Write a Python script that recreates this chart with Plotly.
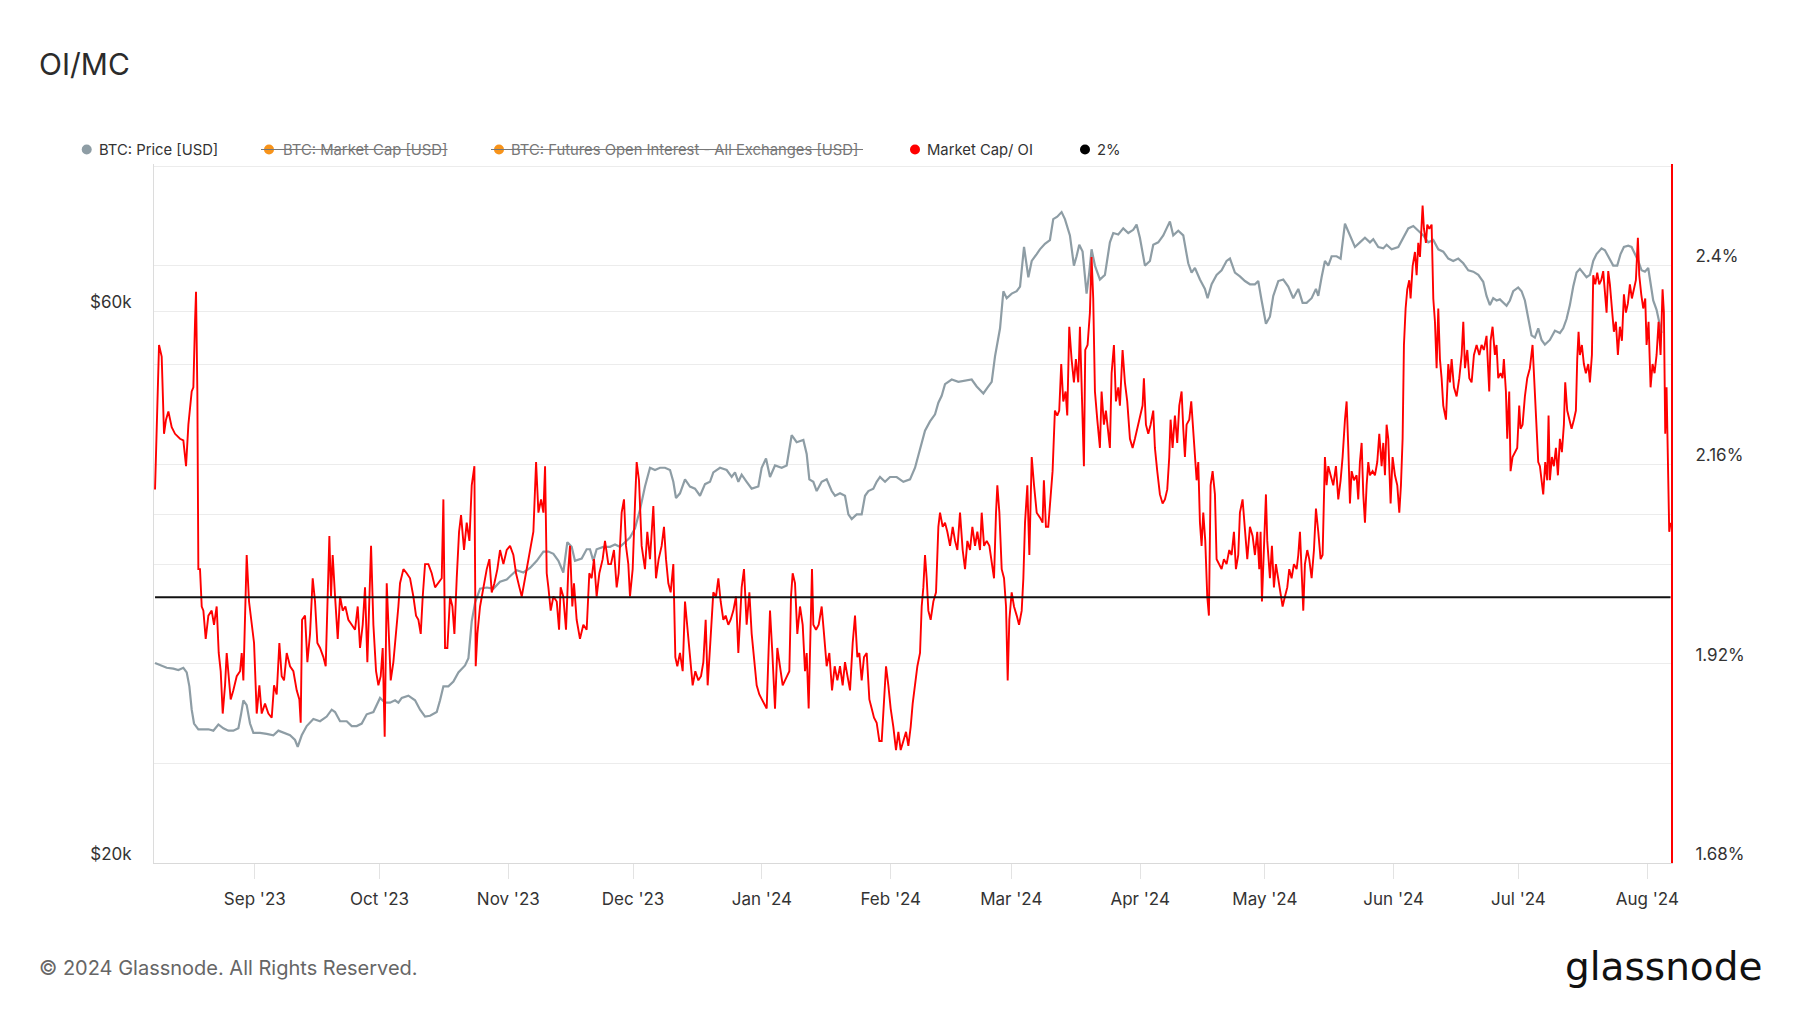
import pandas as pd
import plotly.graph_objects as go

# ---------------- data ----------------
base_date = "2023-08-01"  # day offsets below are counted from this date

# BTC price (USD thousands)
price_days = [
    7.00, 8.20, 9.80, 11.41, 12.61, 13.81, 14.62, 15.26, 15.82, 16.38, 17.42, 18.63, 19.83, 21.03, 22.24,
    23.44, 24.64, 25.84, 27.05, 27.69, 28.25, 29.05, 29.85, 30.66, 32.26, 33.86, 35.47, 36.67, 37.87, 39.48,
    40.68, 41.32, 42.29, 43.49, 45.09, 46.70, 48.30, 49.50, 50.31, 51.51, 53.11, 54.32, 55.52, 56.72, 57.92,
    59.53, 61.13, 62.34, 63.54, 64.74, 65.54, 66.35, 67.95, 69.55, 70.76, 71.96, 73.16, 74.77, 75.57, 76.37,
    77.57, 78.78, 79.98, 81.58, 82.39, 83.19, 83.99, 85.19, 86.80, 88.40, 90.00, 91.61, 92.81, 94.01, 95.62,
    97.22, 98.83, 100.43, 101.63, 102.84, 104.04,
    105.22, 106.19, 107.23, 108.03, 109.64, 110.84, 111.64, 112.44, 113.24, 114.85, 116.45, 117.66, 118.86,
    120.06, 121.26, 122.47, 123.67, 124.87, 126.08, 127.28, 128.48, 129.69, 130.89, 131.69, 132.33, 133.29,
    134.50, 135.70, 136.90, 138.11, 139.31, 140.51, 141.31, 142.92, 144.52, 145.73, 146.53, 147.33, 148.13,
    149.33, 150.54, 152.14, 152.94, 153.99, 154.95, 156.15, 157.76, 158.96, 160.16, 161.36, 162.97, 163.77,
    164.41, 165.37, 166.18, 167.38, 168.58, 169.79, 170.59, 171.79, 172.99, 173.80, 174.60, 175.80, 177.00,
    177.81, 178.61, 179.81, 180.61, 181.41, 182.62, 183.82, 185.42, 187.03, 188.63, 189.84, 191.04, 192.24,
    193.44, 194.65, 195.45, 196.25, 197.05, 198.66, 200.26, 201.87, 203.47, 204.67, 206.28, 207.48, 208.28,
    209.08, 210.29, 211.09, 211.89, 213.09, 214.30, 215.10, 216.06, 217.10, 217.91, 219.11,
    219.88, 221.09, 222.29, 223.09, 224.05, 225.10, 225.90, 227.10, 228.06, 228.70, 229.35, 230.15, 231.11,
    231.75, 232.31, 233.12, 234.32, 235.52, 236.72, 237.53, 238.73, 239.93, 241.14, 242.34, 243.14, 243.94,
    245.15, 246.35, 247.15, 248.35, 249.56, 250.36, 251.16, 251.96, 253.17, 254.37, 255.57, 256.37, 257.18,
    258.38, 259.58, 260.22, 261.19, 262.39, 263.59, 264.79, 265.60, 266.80, 268.00, 269.21, 270.41, 271.61,
    272.41, 273.22, 274.26, 275.22, 276.02, 277.23, 278.43, 279.63, 280.83, 282.04, 283.08, 284.04, 285.25,
    286.29, 286.85, 287.65, 288.45, 289.26, 290.06, 291.26, 292.22, 293.27, 294.47, 295.67, 296.87, 298.08,
    299.28, 300.08, 301.29, 302.49, 303.29, 304.49, 306.10, 307.30, 308.50, 309.71, 310.91, 312.11, 313.32,
    314.52, 315.72, 316.92, 318.13, 319.33, 320.53, 321.74, 322.94, 324.14, 325.35,
    326.53, 327.33, 328.14, 328.94, 329.74, 330.54, 331.34, 332.15, 332.95, 333.75, 334.95, 335.76, 336.56,
    337.36, 338.16, 338.96, 339.77, 340.57, 341.37, 342.57, 343.78, 344.98, 345.78, 346.58, 347.38, 348.19,
    348.99, 349.79, 350.59, 351.39, 352.20, 353.00, 353.80, 355.00, 355.81, 356.61, 357.81, 358.77, 359.57,
    360.38, 361.42, 362.22, 363.02, 363.83, 364.63, 365.43, 366.23, 366.79, 367.43, 368.24, 369.04, 369.44,
]
price_k = [
    29.78, 29.64, 29.50, 29.45, 29.37, 29.50, 29.23, 28.43, 27.14, 26.40, 26.10, 26.10, 26.10, 26.03, 26.35,
    26.15, 26.03, 26.03, 26.15, 26.89, 27.65, 27.39, 26.40, 25.91, 25.91, 25.86, 25.79, 26.03, 25.91, 25.79,
    25.55, 25.20, 25.79, 26.27, 26.64, 26.52, 26.77, 27.14, 27.01, 26.52, 26.52, 26.27, 26.27, 26.40, 26.89,
    27.01, 27.78, 27.52, 27.52, 27.65, 27.52, 27.78, 27.91, 27.65, 27.14, 26.77, 26.81, 27.01, 27.65, 28.43,
    28.43, 28.70, 29.23, 29.64, 30.06, 32.36, 33.58, 34.53, 34.61, 34.53, 35.01, 35.17, 35.50, 35.83, 35.66,
    35.99, 36.50, 37.18, 37.18, 37.01, 36.50,
    35.66, 37.88, 37.53, 36.50, 36.67, 37.35, 37.35, 36.50, 37.35, 37.53, 37.53, 37.71, 37.53,
    37.88, 38.23, 38.94, 40.41, 42.32, 43.93, 43.73, 43.93, 43.93, 43.73, 42.72, 41.36, 41.75,
    42.93, 42.32, 42.14, 41.55, 42.52, 42.72, 43.53, 43.93, 43.73, 43.13, 43.53, 42.72, 43.33,
    42.72, 42.14, 42.32, 43.93, 44.74, 43.13, 44.13, 43.93, 44.13, 46.87, 46.22, 46.43, 45.15,
    42.93, 42.72, 41.94, 42.72, 42.93, 41.94, 41.55, 41.75, 41.55, 40.04, 39.67, 40.04, 40.04,
    41.55, 41.94, 42.14, 42.72, 43.13, 42.72, 43.13, 43.13, 42.72, 42.93, 43.93, 45.57, 47.30,
    48.18, 48.86, 50.00, 50.70, 51.89, 52.37, 52.13, 52.27, 52.37, 51.65, 50.93, 51.65, 52.13,
    54.84, 57.99, 62.43, 61.57, 62.14, 62.43, 63.02, 68.18, 64.19, 66.31, 67.23,
    67.86, 68.62, 69.13, 72.07, 72.41, 73.08, 72.07, 69.77, 65.70, 66.93, 68.49, 67.55, 62.14,
    64.79, 67.86, 65.70, 63.90, 64.49, 68.81, 70.10, 69.90, 70.75, 70.10, 70.55, 71.28, 69.45,
    65.70, 66.31, 68.49, 68.81, 69.77, 70.75, 71.74, 69.77, 70.42, 69.77, 66.00, 64.79, 65.39,
    63.90, 62.72, 61.57, 63.30, 64.49, 65.09, 66.31, 66.62, 64.79, 64.31, 63.71, 63.30, 63.30,
    63.71, 61.29, 58.52, 59.34, 61.85, 63.71, 63.90, 63.02, 61.57, 62.72, 61.01, 61.01, 61.57,
    62.72, 61.85, 64.19, 66.31, 65.70, 66.93, 66.93, 66.62, 71.41, 69.77, 68.18, 68.81, 69.45,
    68.81, 69.25, 68.18, 67.99, 68.49, 67.86, 68.18, 69.45, 70.75, 71.08, 70.42, 69.77, 68.81,
    69.13, 67.86, 67.55, 66.62, 66.31, 66.62, 66.00, 65.09, 64.91, 64.49,
    63.61, 61.85, 60.73, 61.57, 61.29, 61.43, 61.01, 60.66, 61.29, 62.43, 62.90, 62.43, 61.29,
    59.07, 57.18, 56.92, 57.99, 56.66, 56.14, 56.66, 57.72, 57.45, 57.99, 59.07, 60.73, 63.02,
    64.79, 65.27, 64.79, 64.19, 64.49, 66.31, 67.23, 67.99, 67.74, 66.93, 65.70, 65.70, 67.23,
    68.18, 68.36, 68.18, 67.23, 66.31, 65.09, 64.91, 65.39, 63.61, 61.29, 60.17, 58.25, 57.45,
]

# Market Cap / Open Interest ratio (%)
ratio_days = [
    7.00, 7.40, 7.96, 8.60, 9.16, 9.64, 10.21, 11.01, 11.81, 13.01, 13.81, 14.46, 15.02, 15.82, 16.22,
    16.62, 16.86, 17.18, 17.42, 17.82, 18.23, 18.63, 19.19, 19.83, 20.63, 21.19, 21.83, 22.32, 22.80, 23.28,
    23.84, 24.24, 24.64, 25.20, 25.84, 26.65, 27.45, 27.85, 28.25, 28.73, 29.05, 29.61, 30.26, 30.82, 31.46,
    32.10, 32.66, 33.46, 34.27, 35.07, 35.63, 36.27, 36.91, 37.47, 38.03, 38.68, 39.48, 40.28, 41.08, 41.72,
    42.04, 42.37, 43.09, 43.65, 44.29, 44.93, 45.49, 46.05, 46.70, 47.50, 48.06, 48.54, 48.94, 49.34, 49.74,
    50.31, 50.95, 51.51, 52.15, 52.79, 53.51, 54.32, 55.12, 55.76, 56.32, 56.96, 57.52, 58.08, 58.57, 58.97,
    59.53, 60.17, 60.73, 61.29, 61.77, 62.25, 62.74, 63.22, 63.70, 64.34, 64.98, 65.54, 65.94, 66.75, 67.55,
    68.35, 69.15, 69.79, 70.36, 70.92, 71.40, 71.96, 72.76, 73.56, 74.37, 75.17, 75.97, 76.37, 76.77, 77.33,
    77.97, 78.54, 79.02, 79.58, 80.14, 80.62, 81.34, 81.98, 82.63, 83.19, 83.83, 84.15, 84.55, 85.19, 85.99,
    86.80, 87.44, 88.00, 88.64, 89.36, 90.00, 90.81, 91.61, 92.41, 93.21, 93.85, 94.66, 95.22, 96.02, 96.82,
    97.38, 98.02, 98.67, 99.23, 99.87, 100.43, 100.83, 101.23, 101.63, 102.19, 102.84, 103.64, 104.20,
    104.58, 105.22, 105.87, 106.43, 106.83, 107.39, 107.79, 108.43, 109.23, 110.04, 110.84, 111.48, 112.04,
    112.60, 113.24, 113.89, 114.69, 115.25, 116.05, 116.69, 117.41, 118.06, 118.54, 119.26, 119.82, 120.30,
    120.86, 121.26, 121.91, 122.47, 122.87, 123.43, 124.07, 124.87, 125.43, 126.08, 126.88, 127.52, 128.16,
    128.88, 129.44, 129.93, 130.49, 131.05, 131.69, 132.17, 132.65, 133.29, 133.94, 134.50, 135.06, 135.70,
    136.34, 136.98, 137.71, 138.35, 138.91, 139.47, 139.95, 140.51, 141.31, 141.96, 142.52, 143.08, 143.72,
    144.28, 144.92, 145.48, 146.13, 146.77, 147.33, 148.13, 148.69, 149.33, 149.98, 150.54, 151.10, 151.74,
    152.38, 152.94, 153.50, 154.15, 154.63, 154.95, 155.51, 156.15, 156.71, 157.35, 158.00, 158.56, 159.12,
    159.60, 160.00, 160.40, 160.96, 161.52, 162.17, 162.81, 163.37, 163.77, 164.25, 164.73, 165.05, 165.37,
    166.02, 166.66, 167.38, 167.94, 168.58, 169.22, 169.87, 170.51, 171.15, 171.79, 172.43, 172.99, 173.55,
    174.20, 174.84, 175.40, 175.96, 176.44, 177.00, 177.56, 178.21, 178.85, 179.41, 179.97, 180.61, 181.25,
    181.82, 182.38, 182.86, 183.42, 183.98, 184.62, 185.26, 185.83, 186.39, 187.03, 187.67, 188.23, 188.79,
    189.27, 189.84, 190.40, 191.04, 191.44, 191.84, 192.24, 192.64, 193.04, 193.60, 194.25, 194.89, 195.45,
    195.85, 196.49, 197.05, 197.61, 198.26, 198.90, 199.46, 200.02, 200.66, 201.30, 201.87, 202.43, 203.07,
    203.63, 204.27, 204.83, 205.47, 205.88, 206.44, 207.08, 207.72, 208.28, 208.84, 209.32, 209.64, 210.13,
    210.69, 211.25, 211.73, 212.13, 212.53, 213.09, 213.65, 214.30, 214.86, 215.50, 215.90, 216.30, 216.86,
    217.34, 217.91, 218.47, 219.11, 219.91,
    220.52, 220.84, 221.33, 221.89, 222.45, 222.93, 223.49, 224.05, 224.53, 225.01, 225.50, 226.06, 226.46,
    226.94, 227.50, 228.06, 228.54, 229.11, 229.51, 229.99, 230.47, 230.79, 231.35, 231.91, 232.31, 232.71,
    233.12, 233.68, 234.32, 234.72, 235.28, 235.76, 236.32, 236.72, 237.13, 237.69, 238.17, 238.73, 239.13,
    239.77, 240.33, 240.89, 241.54, 242.18, 242.74, 243.30, 243.94, 244.58, 244.90, 245.39, 245.95, 246.51,
    247.15, 247.55, 248.11, 248.75, 249.40, 249.96, 250.52, 251.00, 251.32, 251.80, 252.36, 252.92, 253.41,
    253.97, 254.37, 254.77, 255.17, 255.81, 256.29, 256.77, 257.18, 257.58, 257.98, 258.38, 258.78, 259.18,
    259.66, 260.14, 260.54, 260.94, 261.43, 261.99, 262.39, 262.95, 263.59, 264.15, 264.79, 265.44, 266.00,
    266.56, 267.04, 267.60, 268.00, 268.64, 269.21, 269.77, 270.41, 271.05, 271.61, 272.17, 272.65, 272.97,
    273.30, 273.78, 274.26, 274.58, 275.22, 275.70, 276.18, 276.66, 277.23, 277.79, 278.27, 278.83, 279.39,
    279.87, 280.43, 280.99, 281.64, 282.04, 282.44, 282.92, 283.24, 283.64, 284.20, 284.68, 285.25, 285.81,
    286.29, 286.85, 287.41, 287.89, 288.45, 288.85, 289.26, 289.82, 290.46, 291.10, 291.66, 292.22, 292.70,
    293.27, 293.67, 294.07, 294.47, 294.87, 295.43, 296.07, 296.47, 296.87, 297.28, 297.68, 298.08, 298.48,
    298.88, 299.28, 299.92, 300.48, 301.04, 301.53, 302.09, 302.49, 302.89, 303.29, 303.69, 304.25, 304.73,
    305.30, 305.86, 306.34, 306.74, 307.14, 307.46, 307.86, 308.26, 308.74, 309.06, 309.55, 310.11, 310.51,
    310.91, 311.31, 311.71, 311.95, 312.27, 312.75, 313.07, 313.56, 314.12, 314.52, 314.92, 315.32, 315.72,
    316.12, 316.52, 316.92, 317.57, 318.13, 318.53, 318.93, 319.49, 320.13, 320.77, 321.34, 321.74, 322.14,
    322.70, 323.18, 323.74, 324.30, 324.94, 325.59,
    326.13, 326.69, 327.33, 327.98, 328.30, 328.78, 329.34, 329.74, 330.14, 330.70, 331.18, 331.50, 331.99,
    332.31, 332.79, 333.11, 333.59, 334.15, 334.71, 335.19, 335.51, 336.00, 336.56, 337.12, 337.76, 338.40,
    338.80, 339.36, 339.77, 340.17, 340.65, 340.97, 341.45, 341.93, 342.25, 342.57, 343.05, 343.53, 344.02,
    344.50, 344.98, 345.46, 345.94, 346.26, 346.74, 347.22, 347.79, 348.35, 348.83, 349.15, 349.47, 349.79,
    350.27, 350.75, 351.23, 351.80, 352.20, 352.68, 353.00, 353.48, 353.96, 354.44, 354.92, 355.40, 355.89,
    356.21, 356.61, 357.01, 357.49, 357.97, 358.45, 358.93, 359.41, 359.90, 360.38, 360.86, 361.34, 361.82,
    362.30, 362.78, 363.26, 363.74, 364.07, 364.55, 365.03, 365.51, 365.83, 366.31, 366.79, 367.27, 367.75,
    368.24, 368.72, 369.20, 369.68, 370.00, 370.32, 370.64, 370.96, 371.28, 371.60,
]
ratio_pct = [
    2.130, 2.191, 2.304, 2.290, 2.197, 2.214, 2.224, 2.205, 2.197, 2.191, 2.189, 2.158, 2.208, 2.248, 2.253,
    2.332, 2.368, 2.248, 2.034, 2.034, 1.989, 1.984, 1.950, 1.978, 1.984, 1.967, 1.989, 1.933, 1.911, 1.860,
    1.894, 1.933, 1.911, 1.877, 1.888, 1.905, 1.911, 1.933, 1.900, 1.978, 2.051, 1.995, 1.967, 1.945, 1.860,
    1.894, 1.860, 1.872, 1.860, 1.855, 1.894, 1.883, 1.945, 1.905, 1.900, 1.933, 1.917, 1.911, 1.888, 1.877,
    1.849, 1.973, 1.978, 1.922, 1.956, 2.023, 1.995, 1.945, 1.939, 1.928, 1.917, 2.001, 2.074, 2.001, 2.051,
    2.001, 1.950, 2.001, 1.984, 1.989, 1.973, 1.967, 1.961, 1.989, 1.939, 1.967, 2.012, 1.922, 1.989, 2.062,
    1.967, 1.911, 1.894, 1.905, 1.939, 1.832, 2.017, 1.945, 1.900, 1.922, 1.956, 1.989, 2.017, 2.034, 2.029,
    2.023, 2.001, 1.978, 1.973, 1.956, 2.001, 2.040, 2.040, 2.029, 2.012, 2.017, 2.023, 2.118, 1.939, 1.939,
    2.001, 1.989, 1.956, 2.023, 2.079, 2.099, 2.057, 2.090, 2.068, 2.135, 2.158, 1.917, 1.956, 1.989, 2.012,
    2.034, 2.046, 2.006, 2.017, 2.034, 2.057, 2.040, 2.057, 2.062, 2.051, 2.029, 2.012, 2.001, 2.023, 2.046,
    2.062, 2.079, 2.163, 2.102, 2.118, 2.102, 2.158, 2.029, 2.012, 1.984, 2.001, 1.995, 1.961,
    2.012, 2.001, 1.961, 2.034, 2.062, 1.989, 2.017, 1.973, 1.950, 1.967, 1.961, 2.029, 2.023,
    2.046, 2.001, 2.029, 2.046, 2.068, 2.040, 2.040, 2.057, 2.012, 2.029, 2.102, 2.118, 2.062,
    2.040, 2.001, 2.034, 2.113, 2.163, 2.141, 2.062, 2.034, 2.079, 2.046, 2.110, 2.023, 2.046,
    2.062, 2.085, 2.046, 2.017, 2.006, 2.040, 1.928, 1.917, 1.933, 1.911, 1.995, 1.961, 1.928,
    1.894, 1.911, 1.900, 1.905, 1.922, 1.973, 1.894, 1.939, 2.006, 2.001, 2.023, 1.995, 1.973,
    1.978, 1.967, 1.973, 1.984, 2.001, 1.933, 2.012, 2.034, 1.967, 2.006, 1.956, 1.922, 1.894,
    1.883, 1.877, 1.872, 1.866, 1.939, 1.984, 1.933, 1.866, 1.939, 1.917, 1.894, 1.900, 1.905,
    1.911, 2.001, 2.029, 2.017, 1.956, 1.989, 1.967, 1.911, 1.933, 1.866, 1.967, 2.034, 1.967,
    1.961, 1.967, 1.989, 1.956, 1.917, 1.933, 1.888, 1.917, 1.900, 1.917, 1.894, 1.922, 1.905,
    1.888, 1.945, 1.978, 1.928, 1.933, 1.900, 1.928, 1.933, 1.877, 1.866, 1.855, 1.849, 1.827,
    1.827, 1.883, 1.917, 1.894, 1.866, 1.844, 1.816, 1.838, 1.816, 1.827, 1.838, 1.821, 1.844,
    1.872, 1.894, 1.917, 1.933, 1.989, 2.012, 2.051, 2.023, 1.984, 1.973, 1.995, 2.006, 2.085,
    2.102, 2.085, 2.090, 2.079, 2.062, 2.085, 2.068, 2.057, 2.102, 2.057, 2.034, 2.068, 2.057,
    2.085, 2.062, 2.079, 2.057, 2.102, 2.062, 2.068, 2.062, 2.040, 2.023, 2.102, 2.135, 2.102,
    2.034, 2.023, 1.989, 1.900, 1.973, 2.006, 1.989, 1.978, 1.967, 1.984, 2.023, 2.090, 2.135,
    2.051, 2.169, 2.135, 2.102, 2.096,
    2.090, 2.141, 2.085, 2.085, 2.124, 2.152, 2.225, 2.219, 2.225, 2.281, 2.236, 2.248, 2.219,
    2.326, 2.287, 2.259, 2.287, 2.259, 2.326, 2.248, 2.158, 2.298, 2.304, 2.343, 2.410, 2.360,
    2.248, 2.214, 2.180, 2.248, 2.208, 2.225, 2.197, 2.180, 2.270, 2.304, 2.236, 2.253, 2.231,
    2.298, 2.259, 2.236, 2.191, 2.180, 2.191, 2.203, 2.214, 2.231, 2.264, 2.208, 2.197, 2.208,
    2.225, 2.180, 2.152, 2.124, 2.113, 2.118, 2.130, 2.169, 2.214, 2.180, 2.219, 2.186, 2.231,
    2.248, 2.203, 2.169, 2.208, 2.214, 2.236, 2.203, 2.180, 2.141, 2.163, 2.090, 2.062, 2.102,
    2.068, 2.001, 1.978, 2.135, 2.152, 2.124, 2.046, 2.040, 2.034, 2.046, 2.040, 2.057, 2.051,
    2.079, 2.034, 2.051, 2.102, 2.118, 2.079, 2.046, 2.085, 2.074, 2.051, 2.079, 2.034, 2.079,
    1.995, 2.051, 2.124, 2.068, 2.023, 2.062, 2.012, 2.040, 2.023, 2.006, 1.989, 2.001, 2.012,
    2.034, 2.023, 2.040, 2.034, 2.051, 2.079, 2.023, 1.984, 2.040, 2.057, 2.046, 2.023, 2.057,
    2.107, 2.079, 2.046, 2.051, 2.169, 2.135, 2.158, 2.147, 2.135, 2.158, 2.118, 2.141, 2.169,
    2.214, 2.236, 2.180, 2.113, 2.152, 2.141, 2.147, 2.118, 2.163, 2.186, 2.124, 2.090, 2.135,
    2.163, 2.147, 2.152, 2.147, 2.163, 2.197, 2.158, 2.186, 2.147, 2.208, 2.191, 2.113, 2.169,
    2.147, 2.135, 2.102, 2.135, 2.191, 2.304, 2.348, 2.371, 2.382, 2.360, 2.399, 2.416, 2.388,
    2.427, 2.410, 2.455, 2.472, 2.444, 2.427, 2.449, 2.444, 2.449, 2.360, 2.332, 2.276, 2.348,
    2.287, 2.264, 2.231, 2.214, 2.281, 2.259, 2.287, 2.253, 2.242, 2.264, 2.292, 2.332, 2.276,
    2.298, 2.264, 2.259, 2.292, 2.304, 2.292,
    2.304, 2.298, 2.315, 2.248, 2.309, 2.326, 2.292, 2.304, 2.264, 2.270, 2.264, 2.287, 2.248,
    2.191, 2.248, 2.152, 2.169, 2.175, 2.180, 2.231, 2.203, 2.208, 2.242, 2.264, 2.276, 2.304,
    2.264, 2.214, 2.163, 2.158, 2.141, 2.124, 2.163, 2.141, 2.219, 2.141, 2.169, 2.158, 2.180,
    2.147, 2.191, 2.175, 2.208, 2.259, 2.225, 2.214, 2.203, 2.214, 2.225, 2.287, 2.320, 2.292,
    2.304, 2.281, 2.270, 2.281, 2.259, 2.292, 2.388, 2.377, 2.391, 2.377, 2.382, 2.393, 2.365,
    2.343, 2.393, 2.377, 2.348, 2.320, 2.332, 2.292, 2.326, 2.309, 2.365, 2.343, 2.354, 2.377,
    2.360, 2.371, 2.382, 2.433, 2.388, 2.365, 2.348, 2.360, 2.304, 2.332, 2.253, 2.281, 2.270,
    2.292, 2.332, 2.292, 2.371, 2.343, 2.197, 2.253, 2.135, 2.079, 2.090,
]

threshold_pct = 2.0  # "2%" reference series

# axis ticks
price_tick_vals = [20000, 40000, 60000, 80000]
price_tick_text = ["$20k", "", "$60k", ""]
ratio_tick_vals = [1.68, 1.92, 2.16, 2.40]
ratio_tick_text = ["1.68%", "1.92%", "2.16%", "2.4%"]
ratio_minor_vals = [1.80, 2.04, 2.28]

legend_items = [
    ("BTC: Price [USD]", "#8e9da5", False),
    ("BTC: Market Cap [USD]", "#f7931a", True),
    ("BTC: Futures Open Interest - All Exchanges [USD]", "#f7931a", True),
    ("Market Cap/ OI", "#ff0000", False),
    ("2%", "#000000", False),
]

# ---------------- build ----------------
t0 = pd.Timestamp(base_date)
price_x = t0 + pd.to_timedelta(price_days, unit="D")
price_usd = [p * 1000 for p in price_k]
ratio_x = t0 + pd.to_timedelta(ratio_days, unit="D")

W, H = 1800, 1013
ML, MR, MT, MB = 154, 129, 164, 150
PW, PH = W - ML - MR, H - MT - MB


def px_to_paper_x(px):
    return (px - ML) / PW


def px_to_paper_y(py):
    return (H - MB - py) / PH


FONT = "Inter, Roboto, 'Open Sans', sans-serif"

fig = go.Figure()
fig.add_trace(go.Scatter(
    x=price_x, y=price_usd, mode="lines", name="BTC: Price [USD]",
    line=dict(color="#8e9da5", width=2.2), yaxis="y", hoverinfo="skip",
))
fig.add_trace(go.Scatter(
    x=ratio_x, y=ratio_pct, mode="lines", name="Market Cap/ OI",
    line=dict(color="#ff0000", width=1.9), yaxis="y2", hoverinfo="skip",
))
fig.add_trace(go.Scatter(
    x=[ratio_x[0], ratio_x[-1]], y=[threshold_pct, threshold_pct], mode="lines", name="2%",
    line=dict(color="#111111", width=2), yaxis="y2", hoverinfo="skip",
))

grid_c = "#ececec"
tick_font = dict(family=FONT, size=17, color="#333333")

fig.update_layout(
    width=W, height=H,
    margin=dict(l=ML, r=MR, t=MT, b=MB),
    paper_bgcolor="white", plot_bgcolor="white",
    showlegend=False,
    xaxis=dict(
        type="date",
        range=["2023-08-07 18:00", "2024-08-06 17:00"],
        tick0="2023-09-01", dtick="M1", tickformat="%b '%y",
        showgrid=False, zeroline=False,
        ticks="outside", ticklen=15, tickwidth=1, tickcolor="#e3e3e3",
        showline=True, linecolor="#d9d9d9", linewidth=1,
        tickfont=tick_font, ticklabelstandoff=6,
    ),
    yaxis=dict(
        type="log",
        range=[4.30103, 4.9054],
        tickmode="array", tickvals=price_tick_vals, ticktext=price_tick_text,
        showgrid=True, gridcolor=grid_c, gridwidth=1, zeroline=False,
        showline=True, linecolor="#dcdcdc", linewidth=1,
        ticks="", tickfont=tick_font, ticklabelstandoff=18, ticklabelshift=-9,
    ),
    yaxis2=dict(
        overlaying="y", side="right",
        range=[1.68, 2.522],
        tickmode="array", tickvals=ratio_tick_vals, ticktext=ratio_tick_text,
        showgrid=True, gridcolor=grid_c, gridwidth=1, zeroline=False,
        minor=dict(tickvals=ratio_minor_vals, showgrid=True, gridcolor=grid_c, ticks=""),
        showline=True, linecolor="#ff0000", linewidth=2,
        ticks="", tickfont=tick_font, ticklabelstandoff=19, ticklabelshift=-9,
    ),
)

annotations = []
shapes = []

# title
annotations.append(dict(
    text="OI/MC", xref="paper", yref="paper",
    x=px_to_paper_x(37), y=px_to_paper_y(64), xanchor="left", yanchor="middle",
    showarrow=False, font=dict(family=FONT, size=30, color="#2b2b2b"),
))

# custom legend
legend_dot_px = [86.7, 269.0, 499.0, 915.0, 1085.0]
legend_text_px = [97.0, 281.0, 509.0, 925.0, 1095.0]
legend_end_px = [217.0, 447.5, 863.0, 1033.0, 1116.0]
ly = px_to_paper_y(149.5)
for (label, color, struck), dx, tx, ex in zip(legend_items, legend_dot_px, legend_text_px, legend_end_px):
    shapes.append(dict(
        type="circle", xref="paper", yref="paper",
        xsizemode="pixel", ysizemode="pixel",
        xanchor=px_to_paper_x(dx), yanchor=ly,
        x0=-5, x1=5, y0=-5, y1=5,
        fillcolor=color, line=dict(width=0),
    ))
    annotations.append(dict(
        text=label, xref="paper", yref="paper",
        x=px_to_paper_x(tx), y=ly, xanchor="left", yanchor="middle",
        showarrow=False,
        font=dict(family=FONT, size=14.8, color="#777777" if struck else "#333333"),
    ))
    if struck:
        shapes.append(dict(
            type="line", xref="paper", yref="paper",
            x0=px_to_paper_x(dx - 8), x1=px_to_paper_x(ex), y0=ly, y1=ly,
            line=dict(color="#777777", width=1.2),
        ))

# footer
annotations.append(dict(
    text="© 2024 Glassnode. All Rights Reserved.", xref="paper", yref="paper",
    x=px_to_paper_x(37), y=px_to_paper_y(968), xanchor="left", yanchor="middle",
    showarrow=False, font=dict(family=FONT, size=20, color="#666666"),
))
annotations.append(dict(
    text="glassnode", xref="paper", yref="paper",
    x=px_to_paper_x(1764), y=px_to_paper_y(966), xanchor="right", yanchor="middle",
    showarrow=False, font=dict(family="'DejaVu Sans', sans-serif", size=39, color="#111111"),
))

fig.update_layout(annotations=annotations, shapes=shapes)

fig.write_html(
    "out.html",
    config={"displayModeBar": False},
    post_script="document.body.style.margin='0px';",
)
